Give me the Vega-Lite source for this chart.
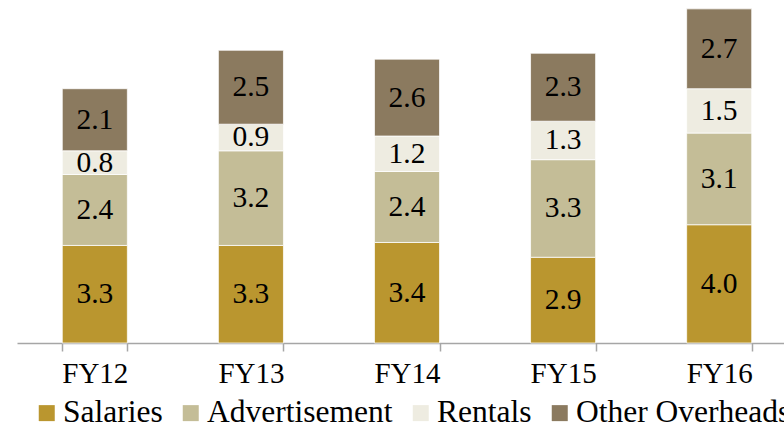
{
  "$schema": "https://vega.github.io/schema/vega-lite/v6.json",
  "width": 767,
  "height": 343,
  "autosize": "none",
  "padding": {"left": 17, "top": 0, "right": 0, "bottom": 81},
  "background": "white",
  "config": {
    "view": {"stroke": null},
    "font": "Liberation Serif",
    "legend": {"labelFont": "Liberation Serif", "labelFontSize": 31.5, "labelColor": "#000000"},
    "axis": {"labelFont": "Liberation Serif"},
    "text": {"font": "Liberation Serif"}
  },
  "data": {
    "values": [
      {"year": "FY12", "series": "Salaries", "value": 3.3},
      {"year": "FY12", "series": "Advertisement", "value": 2.4},
      {"year": "FY12", "series": "Rentals", "value": 0.8},
      {"year": "FY12", "series": "Other Overheads", "value": 2.1},
      {"year": "FY13", "series": "Salaries", "value": 3.3},
      {"year": "FY13", "series": "Advertisement", "value": 3.2},
      {"year": "FY13", "series": "Rentals", "value": 0.9},
      {"year": "FY13", "series": "Other Overheads", "value": 2.5},
      {"year": "FY14", "series": "Salaries", "value": 3.4},
      {"year": "FY14", "series": "Advertisement", "value": 2.4},
      {"year": "FY14", "series": "Rentals", "value": 1.2},
      {"year": "FY14", "series": "Other Overheads", "value": 2.6},
      {"year": "FY15", "series": "Salaries", "value": 2.9},
      {"year": "FY15", "series": "Advertisement", "value": 3.3},
      {"year": "FY15", "series": "Rentals", "value": 1.3},
      {"year": "FY15", "series": "Other Overheads", "value": 2.3},
      {"year": "FY16", "series": "Salaries", "value": 4.0},
      {"year": "FY16", "series": "Advertisement", "value": 3.1},
      {"year": "FY16", "series": "Rentals", "value": 1.5},
      {"year": "FY16", "series": "Other Overheads", "value": 2.7}
    ]
  },
  "transform": [
    {"stack": "value", "groupby": ["year"], "as": ["v0", "v1"]}
  ],
  "encoding": {
    "x": {
      "field": "year",
      "type": "nominal",
      "scale": {"range": [0, 780], "paddingInner": 0.583, "paddingOuter": 0.29},
      "axis": {
        "title": null,
        "labelAngle": 0,
        "labelFont": "Liberation Serif",
        "labelFontSize": 29,
        "labelColor": "#000000",
        "labelPadding": 8,
        "domainColor": "#A6A6A6",
        "domainWidth": 1.5,
        "tickColor": "#A6A6A6",
        "tickWidth": 1.5,
        "tickSize": 8,
        "tickBand": "extent",
        "grid": false
      }
    }
  },
  "layer": [
    {
      "mark": {"type": "bar", "stroke": "#ffffff", "strokeWidth": 0.75},
      "encoding": {
        "y": {"field": "v1", "type": "quantitative", "scale": {"domain": [0, 11.6]}, "axis": null},
        "y2": {"field": "v0"},
        "color": {
          "field": "series",
          "type": "nominal",
          "scale": {
            "domain": ["Salaries", "Advertisement", "Rentals", "Other Overheads"],
            "range": ["#BA962F", "#C4BD97", "#EEECE1", "#8B7A5F"]
          },
          "legend": {
            "title": null,
            "orient": "none",
            "direction": "horizontal",
            "legendX": 14,
            "legendY": 397,
            "padding": 0,
            "symbolType": "square",
            "symbolSize": 256,
            "symbolStrokeWidth": 0,
            "symbolOpacity": 1,
            "symbolOffset": 0,
            "labelAlign": "left",
            "labelFont": "Liberation Serif",
            "labelFontSize": 31.5,
            "labelColor": "#000000",
            "labelOffset": 0.5,
            "columnPadding": 12,
            "labelLimit": 400
          }
        }
      }
    },
    {
      "transform": [{"fold": ["v0", "v1"], "as": ["edgeKey", "edge"]}],
      "mark": {"type": "text", "font": "Liberation Serif", "fontSize": 29.5, "color": "#000000", "baseline": "middle"},
      "encoding": {
        "y": {"field": "edge", "aggregate": "mean", "type": "quantitative", "scale": {"domain": [0, 11.6]}, "axis": null},
        "detail": {"field": "series"},
        "text": {"field": "value", "type": "quantitative", "format": ".1f"}
      }
    }
  ]
}
